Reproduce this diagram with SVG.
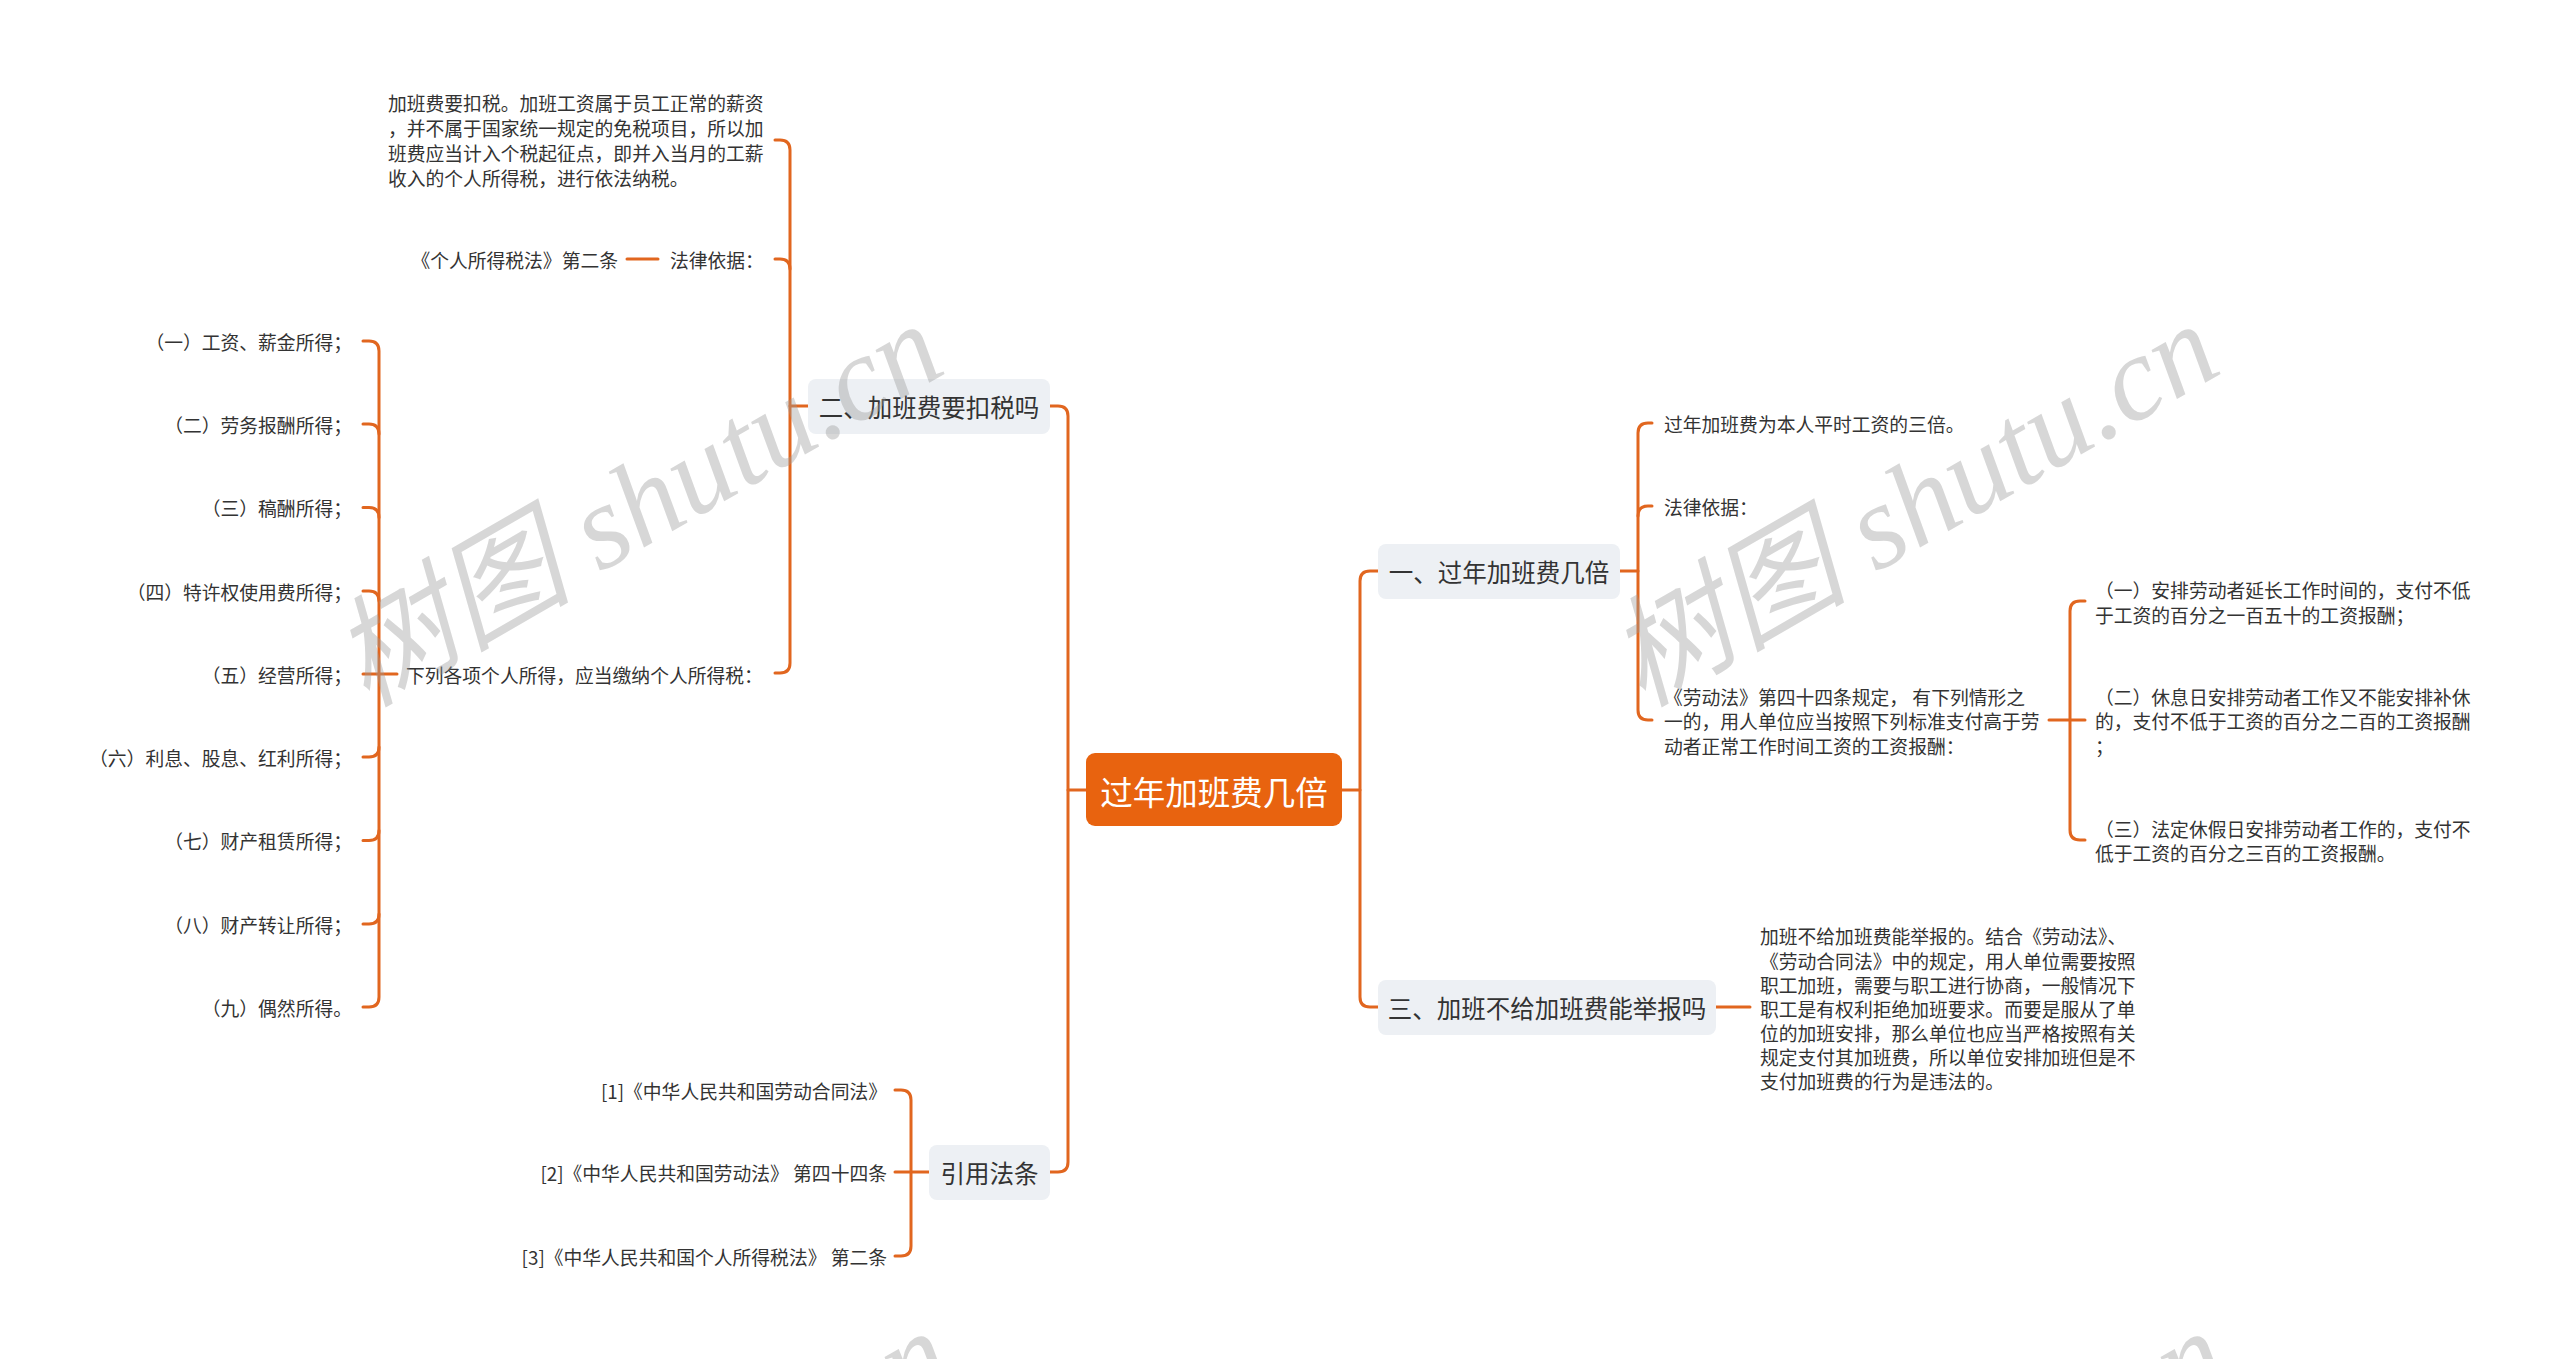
<svg xmlns="http://www.w3.org/2000/svg" width="2560" height="1359" viewBox="0 0 2560 1359">
<style>
text{font-family:"Noto Sans CJK SC","Noto Sans",sans-serif;fill:#333;dominant-baseline:central}
.s{font-size:18.8px}
.l1{font-size:24.5px}
.box{fill:#edf0f4}
.c{fill:none;stroke:#e1661f;stroke-width:3;stroke-linecap:round;stroke-linejoin:round}
.wm{font-family:"Liberation Serif","Noto Sans CJK SC",serif;font-style:italic;font-size:120px;fill:#9a9a9a;fill-opacity:0.4;dominant-baseline:alphabetic}
</style>
<rect width="2560" height="1359" fill="#fff"/>
<g id="connectors" class="c">
<path d="M1068,790 H1086"/>
<path d="M1050,406 H1058 Q1068,406 1068,416 V1162 Q1068,1172 1058,1172 H1050"/>
<path d="M1342,790 H1360"/>
<path d="M1378,571 H1370 Q1360,571 1360,581 V997 Q1360,1007 1370,1007 H1378"/>
<path d="M808,406 H790"/>
<path d="M775,140 H780 Q790,140 790,150 V663 Q790,673 780,673 H775"/>
<path d="M775,259 H780 Q790,259 790,269"/>
<path d="M627,259 H658"/>
<path d="M397,674 H363"/>
<path d="M363,341 H369 Q379,341 379,351 V997 Q379,1007 369,1007 H363"/>
<path d="M363,424 H369 Q379,424 379,434"/>
<path d="M363,507.5 H369 Q379,507.5 379,517.5"/>
<path d="M363,591 H369 Q379,591 379,601"/>
<path d="M363,757 H369 Q379,757 379,747"/>
<path d="M363,840.5 H369 Q379,840.5 379,830.5"/>
<path d="M363,924 H369 Q379,924 379,914"/>
<path d="M929,1172 H895"/>
<path d="M895,1090 H901 Q911,1090 911,1100 V1246 Q911,1256 901,1256 H895"/>
<path d="M1620,571 H1638"/>
<path d="M1652,423 H1648 Q1638,423 1638,433 V710 Q1638,720 1648,720 H1652"/>
<path d="M1652,506 H1648 Q1638,506 1638,516"/>
<path d="M2049,720 H2085"/>
<path d="M2085,601 H2080 Q2070,601 2070,611 V830 Q2070,840 2080,840 H2085"/>
<path d="M1716,1007 H1750"/>
</g>
<g id="root">
<rect x="1086" y="753" width="256" height="73" rx="9" fill="#e8630f"/>
<text x="1214" y="790" text-anchor="middle" style="font-size:32.5px;fill:#fff">过年加班费几倍</text>
</g>
<g id="n-tax">
<rect class="box" x="808" y="379" width="242" height="55" rx="8"/>
<text class="l1" x="929" y="406" text-anchor="middle">二、加班费要扣税吗</text>
</g>
<g id="n-tax-p">
<text class="s" x="388"><tspan x="388" y="102">加班费要扣税。加班工资属于员工正常的薪资</tspan><tspan x="388" y="127">，并不属于国家统一规定的免税项目，所以加</tspan><tspan x="388" y="152">班费应当计入个税起征点，即并入当月的工薪</tspan><tspan x="388" y="177">收入的个人所得税，进行依法纳税。</tspan></text>
</g>
<g id="n-basis-l"><text class="s" x="670" y="259">法律依据：</text></g>
<g id="n-basis-l-c"><text class="s" x="618" y="259" text-anchor="end">《个人所得税法》第二条</text></g>
<g id="n-items"><text class="s" x="406" y="674">下列各项个人所得，应当缴纳个人所得税：</text></g>
<g id="n-item1"><text class="s" x="352" y="341" text-anchor="end">（一）工资、薪金所得；</text></g>
<g id="n-item2"><text class="s" x="352" y="424" text-anchor="end">（二）劳务报酬所得；</text></g>
<g id="n-item3"><text class="s" x="352" y="507.5" text-anchor="end">（三）稿酬所得；</text></g>
<g id="n-item4"><text class="s" x="352" y="591" text-anchor="end">（四）特许权使用费所得；</text></g>
<g id="n-item5"><text class="s" x="352" y="674" text-anchor="end">（五）经营所得；</text></g>
<g id="n-item6"><text class="s" x="352" y="757" text-anchor="end">（六）利息、股息、红利所得；</text></g>
<g id="n-item7"><text class="s" x="352" y="840.5" text-anchor="end">（七）财产租赁所得；</text></g>
<g id="n-item8"><text class="s" x="352" y="924" text-anchor="end">（八）财产转让所得；</text></g>
<g id="n-item9"><text class="s" x="352" y="1007" text-anchor="end">（九）偶然所得。</text></g>
<g id="n-refs">
<rect class="box" x="929" y="1145" width="121" height="55" rx="8"/>
<text class="l1" x="989.5" y="1172" text-anchor="middle">引用法条</text>
</g>
<g id="n-ref1"><text class="s" x="887" y="1090" text-anchor="end">[1]《中华人民共和国劳动合同法》</text></g>
<g id="n-ref2"><text class="s" x="887" y="1172" text-anchor="end">[2]《中华人民共和国劳动法》 第四十四条</text></g>
<g id="n-ref3"><text class="s" x="887" y="1256" text-anchor="end">[3]《中华人民共和国个人所得税法》 第二条</text></g>
<g id="n-times">
<rect class="box" x="1378" y="544" width="242" height="55" rx="8"/>
<text class="l1" x="1499" y="571" text-anchor="middle">一、过年加班费几倍</text>
</g>
<g id="n-times-a"><text class="s" x="1664" y="423">过年加班费为本人平时工资的三倍。</text></g>
<g id="n-basis-r"><text class="s" x="1664" y="506">法律依据：</text></g>
<g id="n-law44"><text class="s"><tspan x="1664" y="696">《劳动法》第四十四条规定， 有下列情形之</tspan><tspan x="1664" y="720">一的，用人单位应当按照下列标准支付高于劳</tspan><tspan x="1664" y="745">动者正常工作时间工资的工资报酬：</tspan></text></g>
<g id="n-law44-1"><text class="s"><tspan x="2095" y="589">（一）安排劳动者延长工作时间的，支付不低</tspan><tspan x="2095" y="614">于工资的百分之一百五十的工资报酬；</tspan></text></g>
<g id="n-law44-2"><text class="s"><tspan x="2095" y="696">（二）休息日安排劳动者工作又不能安排补休</tspan><tspan x="2095" y="720">的，支付不低于工资的百分之二百的工资报酬</tspan><tspan x="2095" y="745">；</tspan></text></g>
<g id="n-law44-3"><text class="s"><tspan x="2095" y="828">（三）法定休假日安排劳动者工作的，支付不</tspan><tspan x="2095" y="852">低于工资的百分之三百的工资报酬。</tspan></text></g>
<g id="n-report">
<rect class="box" x="1378" y="980" width="338" height="55" rx="8"/>
<text class="l1" x="1547" y="1007" text-anchor="middle">三、加班不给加班费能举报吗</text>
</g>
<g id="n-report-p"><text class="s"><tspan x="1760" y="935">加班不给加班费能举报的。结合《劳动法》、</tspan><tspan x="1760" y="960">《劳动合同法》中的规定，用人单位需要按照</tspan><tspan x="1760" y="984">职工加班，需要与职工进行协商，一般情况下</tspan><tspan x="1760" y="1008">职工是有权利拒绝加班要求。而要是服从了单</tspan><tspan x="1760" y="1032">位的加班安排，那么单位也应当严格按照有关</tspan><tspan x="1760" y="1056">规定支付其加班费，所以单位安排加班但是不</tspan><tspan x="1760" y="1080">支付加班费的行为是违法的。</tspan></text></g>
<g id="watermarks">
<text class="wm" transform="translate(366,708) rotate(-30)">树图 shutu.cn</text>
<text class="wm" transform="translate(1642,708) rotate(-30)">树图 shutu.cn</text>
<text class="wm" transform="translate(375,1715) rotate(-30)">树图 shutu.cn</text>
<text class="wm" transform="translate(1651,1715) rotate(-30)">树图 shutu.cn</text>
</g>
</svg>
